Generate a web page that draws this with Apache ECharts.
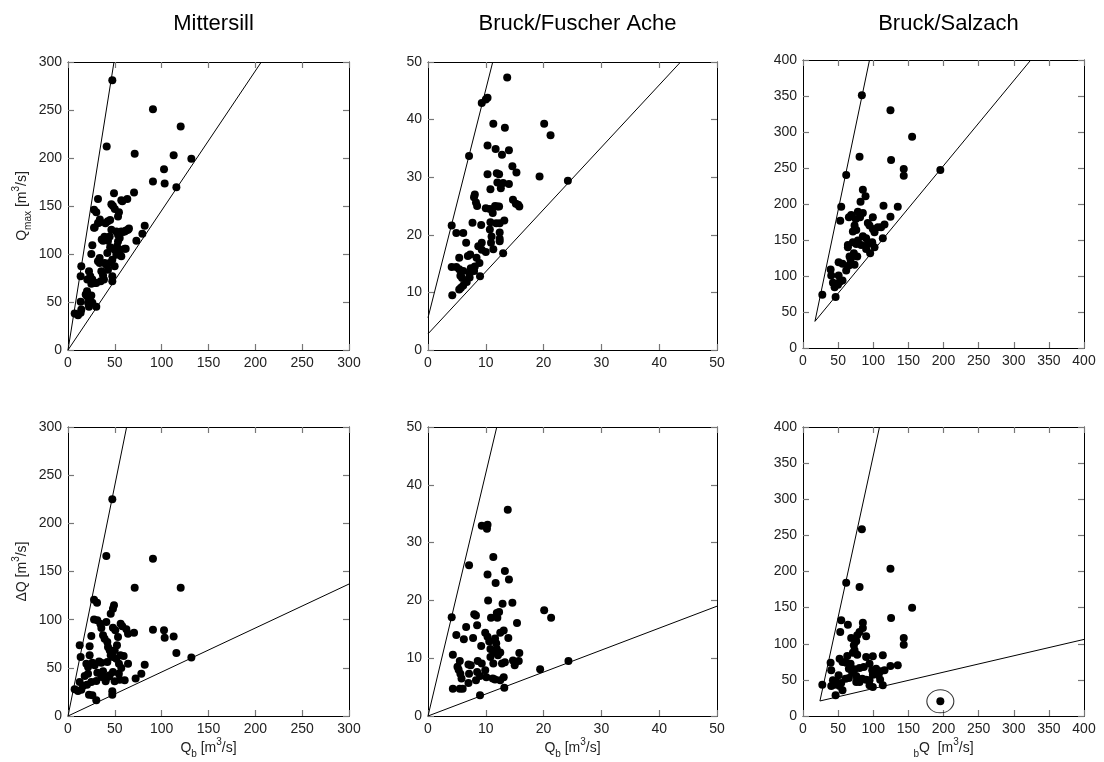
<!DOCTYPE html>
<html>
<head>
<meta charset="utf-8">
<script src="https://cdn.jsdelivr.net/npm/echarts@6/dist/echarts.min.js"></script>
<style>
html,body{margin:0;padding:0;background:#fff;}
#chart{width:1104px;height:762px;}
</style>
</head>
<body>
<div id="chart"></div>
<script>
// ---------- titles ----------
const stationTitles = ['Mittersill', 'Bruck/Fuscher Ache', 'Bruck/Salzach'];

// ---------- axis ranges ----------
const axisMax = [300, 50, 400];
const axisInterval = [50, 10, 50];

// ---------- Mittersill: Qmax vs Qb ----------
const mittersillQmax = [
  [47.3,281],[90.7,250.9],[120.3,232.9],[41.3,212.1],[71.2,204.5],[112.8,202.8],[131.7,199.3],
  [102.5,188.2],[90.7,175.4],[103.2,173.4],[115.7,169.6],[32,157.4],[49.1,163.3],[70.5,164],
  [56.9,156.1],[63.3,157.4],[46.3,151.9],[54.4,143.6],[53.4,139.1],[27.8,146],[30.2,143.6],
  [34,136],[33,132.5],[27.8,127.3],[40,132],[42.5,134],[45,135.5],[51.6,123.5],[53.4,120],
  [58.5,123],[62,124.5],[65.1,126.6],[73,113.8],[79.4,121.1],[81.9,129.4],[60.5,105.5],
  [7.1,38.1],[10.7,36.3],[13.5,38.8],[14.2,42.2],[13.5,50.2],[13.5,76.8],[14.2,87.2],
  [18.9,57.8],[20.3,56.1],[20.3,61.2],[21.4,49.1],[22.4,45],[23.1,54.3],[24.9,56.7],[26,49.1],
  [30.2,45],[20.6,73.4],[22.4,82],[23.8,76.8],[24.9,68.9],[26,73.4],[28.5,69.9],[30.2,69.9],
  [24.9,100],[26,109],[28.5,127.7],[32,132.2],[33.8,90.7],[35.6,82],[37.4,77.9],[38.4,73.4],
  [34.9,71.6],[40.9,88.9],[42,101],[42.7,113.8],[37.4,113.8],[44.5,118.3],[46.3,125.3],
  [47.3,94.1],[47.3,76.8],[47.3,71.6],[49.8,87.2],[49.8,104.5],[51.6,99.3],[52.3,108],
  [53.4,113.1],[55.9,104.5],[56.9,97.6],[55.2,116.6],[56.9,123.5],[60.5,123.5],[61.6,105.5],
  [64.1,125.3],[32,92.4],[33.8,95.8],[39.1,90.7],[42.7,83.7],[44.5,90.7],[36,115],[39,118],
  [45,107],[50,147],[48,150],[58,155]
];
// ---------- Bruck/Fuscher Ache: Qmax vs Qb ----------
const fuscherQmax = [
  [13.7,47.3],[10.3,43.8],[10.0,43.5],[9.3,42.9],[20.1,39.3],[11.3,39.3],[13.3,38.6],[21.2,37.3],
  [10.3,35.5],[11.7,34.9],[14.0,34.7],[12.8,33.9],[7.1,33.7],[14.6,31.9],[15.3,30.8],[10.3,30.5],
  [11.9,30.7],[12.3,30.5],[19.3,30.1],[12.0,29.1],[13.0,29.0],[14.0,28.8],[24.2,29.4],[10.8,27.9],
  [12.6,28.1],[8.1,27.0],[7.96,26.5],[8.3,25.6],[8.5,25.0],[14.7,26.1],[15.2,25.4],[15.6,25.2],
  [15.8,24.9],[10.0,24.6],[10.7,24.5],[11.2,23.8],[11.6,25.0],[12.0,24.9],[12.3,24.9],[10.8,22.2],
  [7.7,22.1],[9.2,21.7],[13.2,22.5],[12.4,22.0],[11.8,22.0],[4.1,21.6],[4.9,20.3],[6.1,20.3],
  [12.4,20.4],[10.7,20.9],[11.0,19.7],[12.4,19.3],[12.4,18.9],[6.6,18.6],[9.3,18.6],[8.7,18.0],
  [10.9,18.6],[11.3,17.5],[10.0,17.0],[9.3,17.4],[13.0,16.8],[7.3,16.6],[6.9,16.3],[8.4,16.0],
  [5.4,16.0],[8.9,15.1],[8.1,14.5],[7.4,14.2],[4.1,14.4],[4.9,14.4],[5.4,14.0],[6.1,13.7],
  [7.97,13.7],[7.2,13.3],[5.6,12.9],[5.9,12.5],[7.2,12.6],[9.0,12.8],[6.7,11.8],[6.1,11.2],
  [5.7,10.8],[5.4,10.5],[4.2,9.5]
];
// ---------- Bruck/Salzach: Qmax vs Qb ----------
const salzachQmax = [
  [83.8,351],[124.5,330.3],[155.3,293.3],[80.5,265.6],[125.4,261],[143.4,248.5],[195.5,247.1],
  [143.4,239.3],[61.5,240.2],[85.2,219.9],[89,210.6],[81.9,203.2],[54.4,196.3],[134.9,196.3],
  [114.6,197.7],[53,176.9],[78.1,189.4],[85.2,187.5],[68.6,184.8],[65.3,181.5],[75.1,179.2],
  [81.2,181.5],[99.4,181.5],[124.5,182.4],[92.3,173.7],[94.7,170],[99.4,165.4],[106.5,167.7],
  [116,171.4],[111.2,167.7],[73.4,170],[71,161.7],[75.8,164],[101.8,160.7],[113.6,152.4],
  [85.2,155.2],[89.9,152.4],[78.1,149.2],[71,146.9],[75.8,144.6],[82.8,143.2],[92.3,144.6],
  [98.5,146.9],[101.8,140],[89.9,137.6],[95.6,131.6],[63.9,143.2],[63.9,140],[72.4,131.6],
  [66.3,127],[69.8,127],[77.2,127],[67.7,122.4],[73.4,115.5],[65.3,114.5],[61.5,107.6],
  [50.7,119.2],[56.2,116.9],[39.3,109],[40.2,100.7],[50.7,100.7],[42.6,90.5],[47.3,89.1],
  [52.1,91.5],[56.2,93.8],[45,84.5],[49.7,87.8],[27.5,73.9],[46.4,70.7]
];
// ---------- Mittersill: dQ vs Qb ----------
const mittersillDQ = [
  [47.3,224.9],[40.9,166.1],[90.7,163.3],[71.2,133.2],[120.3,133.2],[27.8,120.8],[31,117.6],
  [49.1,114.9],[48,111.4],[45.6,106.2],[27.8,100.3],[31.3,99.3],[40.9,97.6],[34.5,95.8],
  [35.6,91.3],[48,91.7],[50.5,88.9],[56.2,95.8],[58,93.1],[62.3,90],[64.1,85.5],[70.5,86.5],
  [90.7,89.6],[102.5,88.9],[103.2,81.3],[112.8,82.4],[115.7,65.4],[131.7,60.6],[24.9,83],
  [37.4,83.7],[39.1,80.3],[42,76.8],[42.7,71.6],[44.5,68.2],[49.8,68.2],[52.3,73.4],[53.4,82],
  [55.9,63],[59.4,62.3],[12.5,73.4],[13.5,61.2],[23.1,72.3],[23.1,63],[19.6,54.3],[21.4,50.9],
  [26,55.4],[28.5,52.6],[33.1,56.7],[35.6,55.4],[42,56.1],[45.6,63],[48,61.2],[51.6,59.5],
  [54.4,54.3],[64.1,54.3],[81.9,53.3],[78.3,43.9],[72.2,38.8],[56.9,49.8],[54.3,43.9],
  [48,45.7],[37.4,46.4],[31.3,45],[21.4,43.9],[17.8,41.5],[12.5,35.3],[16,31.1],[20.3,32.5],
  [24.9,35.3],[30.2,36.3],[40.2,36],[49.8,36],[55.2,37.7],[60.5,37],[7.1,27.7],[10.7,26],
  [14.2,27.3],[22.4,22.1],[26,21.5],[30.2,16.3],[47.3,25.6],[47.3,22.1],[42.7,40.5],
  [44.5,42.2],[35.6,40.5]
];
// ---------- Bruck/Fuscher Ache: dQ vs Qb ----------
const fuscherDQ = [
  [13.8,35.7],[10.3,33.1],[9.3,32.9],[10.2,32.4],[7.1,26.1],[11.3,27.5],[13.3,25.1],[10.3,24.5],
  [14.0,23.6],[11.7,23.0],[10.4,20.0],[20.1,18.3],[21.3,17.0],[12.9,19.4],[14.6,19.6],[4.1,17.1],
  [8.0,17.6],[8.3,17.4],[11.9,17.8],[12.3,18.0],[10.9,17.0],[12.0,17.0],[15.4,16.1],[8.5,15.7],
  [13.1,14.8],[12.5,14.4],[9.9,14.4],[6.6,15.4],[4.9,14.0],[6.2,13.3],[7.8,13.5],[10.3,13.7],
  [10.6,12.9],[11.6,13.4],[13.9,13.5],[11.8,12.6],[9.2,12.1],[4.3,10.6],[10.8,11.6],[11.3,11.0],
  [11.9,11.6],[12.5,11.0],[12.1,10.5],[15.8,10.9],[10.8,10.2],[5.5,9.5],[7.0,8.9],[7.4,8.8],
  [8.6,9.5],[9.3,9.1],[9.9,7.9],[11.3,9.1],[12.8,9.1],[13.3,9.3],[14.7,9.6],[15.0,8.8],[15.7,9.5],
  [19.4,8.1],[24.3,9.5],[5.1,8.5],[5.3,8.0],[5.6,7.3],[5.8,6.5],[7.1,7.3],[8.5,7.6],[9.0,6.9],
  [8.3,6.2],[7.0,5.7],[10.1,6.7],[11.2,6.5],[11.6,6.3],[12.5,6.2],[13.1,6.7],[4.3,4.7],[5.5,4.7],
  [6.0,4.7],[13.2,4.9],[9.0,3.6]
];
// ---------- Bruck/Salzach: dQ vs Qb ----------
const salzachDQ = [
  [83.8,258.4],[124.5,203.9],[61.5,184.5],[80.5,178.5],[155.3,149.9],[125.4,135.6],[54.4,132.4],
  [85.2,129.2],[63.9,126.4],[85.2,121.8],[80.5,116.3],[53,116.3],[77.2,111.6],[89.9,110.3],
  [143.4,108],[143.4,98.7],[68.6,108],[75.8,103.3],[72.4,97.8],[73.4,90.9],[71,87.7],[77.2,84.9],
  [63,83],[113.6,84],[89.9,81.7],[99.4,82.6],[39.3,73.8],[52.1,79.4],[56.2,74.7],[61.5,73.8],
  [67.7,72.4],[94.7,72.4],[134.9,70.1],[124.5,69.2],[40.2,63.2],[65.3,65.5],[73.4,64.6],
  [80.5,66.4],[86.6,67.8],[104.1,65.5],[110.3,61.8],[116,63.2],[70,60],[98.5,63.2],[99.4,57.2],
  [50.7,56.3],[60.6,51.7],[65.3,52.6],[75.8,55.4],[84.3,51.7],[89.9,50.3],[94.7,49.4],
  [107.5,56.3],[109.8,50.3],[42.6,49.4],[47.3,47.1],[54.4,45.7],[45,43.4],[40.2,41.5],[27.5,43.4],
  [52.1,41.5],[75.8,47.1],[80.5,47.1],[94.7,42.4],[99.4,40.1],[113.6,42.4],[56.2,35.5],[46.4,28.6],
  [195.5,20.3]
];
// circled outlier (Bruck/Salzach, dQ)
const salzachOutlierMark = [[195.5,20.3]];

// ---------- envelope lines [start, end] ----------
const mittersillQmaxUpper = [[0,0],[49.1,300]];
const mittersillQmaxLower = [[0,0],[206.4,300]];
const fuscherQmaxUpper = [[0,5.6],[11.2,50]];
const fuscherQmaxLower = [[0,2.8],[43.7,50]];
const salzachQmaxUpper = [[17,37],[94.7,400]];
const salzachQmaxLower = [[17,37],[324.3,400]];
const mittersillDQUpper = [[0,0],[62.6,300]];
const mittersillDQLower = [[0,0],[300,137]];
const fuscherDQUpper = [[0,0],[11.9,50]];
const fuscherDQLower = [[0,0],[50,19]];
const salzachDQUpper = [[24.1,20.8],[108.9,400]];
const salzachDQLower = [[24.1,20.8],[400,106]];

// ---------- layout ----------
const gridBoxes = [
  {left:68, top:62, width:281, height:288},
  {left:428, top:62, width:289, height:288},
  {left:803, top:60, width:281, height:288},
  {left:68, top:427, width:281, height:289},
  {left:428, top:427, width:289, height:289},
  {left:803, top:427, width:281, height:289}
];
const panelData = [mittersillQmax, fuscherQmax, salzachQmax, mittersillDQ, fuscherDQ, salzachDQ];
const panelLines = [
  [mittersillQmaxUpper, mittersillQmaxLower],
  [fuscherQmaxUpper, fuscherQmaxLower],
  [salzachQmaxUpper, salzachQmaxLower],
  [mittersillDQUpper, mittersillDQLower],
  [fuscherDQUpper, fuscherDQLower],
  [salzachDQUpper, salzachDQLower]
];

const FONT = 'Liberation Sans, Arial, sans-serif';
const rich = {
  n: {fontSize: 14, fontFamily: FONT, color: '#222', lineHeight: 22, verticalAlign: 'middle'},
  sub: {fontSize: 10, fontFamily: FONT, color: '#222', lineHeight: 22, verticalAlign: 'bottom'},
  sup: {fontSize: 10, fontFamily: FONT, color: '#222', lineHeight: 22, verticalAlign: 'top'}
};
const yNames = ['{n|Q}{sub|max}{n| [m}{sup|3}{n|/s]}', '', '', '{n|ΔQ [m}{sup|3}{n|/s]}', '', ''];
const xNames = ['', '', '', '{n|Q}{sub|b}{n| [m}{sup|3}{n|/s]}', '{n|Q}{sub|b}{n| [m}{sup|3}{n|/s]}', '{sub|b}{n|Q  [m}{sup|3}{n|/s]}'];

const grids = [], xAxes = [], yAxes = [], series = [], titles = [];

function axisBase(max, interval, showLabel, pos) {
  return {
    type: 'value', min: 0, max: max, interval: interval, position: pos,
    splitLine: {show: false},
    axisLine: {show: true, onZero: false, lineStyle: {color: '#000', width: 1}},
    axisTick: {show: true, inside: true, length: 6, lineStyle: {color: '#777', width: 1.2}},
    axisLabel: {show: showLabel, fontSize: 14, fontFamily: FONT, color: '#222', margin: 6}
  };
}

for (let i = 0; i < 6; i++) {
  const col = i % 3;
  const max = axisMax[col], itv = axisInterval[col];
  grids.push(Object.assign({containLabel: false}, gridBoxes[i]));
  const xb = axisBase(max, itv, true, 'bottom');
  xb.gridIndex = i;
  xb.name = xNames[i];
  xb.nameLocation = 'middle';
  xb.nameGap = 19;
  xb.nameTextStyle = {rich: rich};
  const xt = axisBase(max, itv, false, 'top');
  xt.gridIndex = i;
  const yl = axisBase(max, itv, true, 'left');
  yl.gridIndex = i;
  yl.name = yNames[i];
  yl.nameLocation = 'middle';
  yl.nameGap = 35;
  yl.nameTextStyle = {rich: rich};
  const yr = axisBase(max, itv, false, 'right');
  yr.gridIndex = i;
  const xIdx = xAxes.length;
  xAxes.push(xb, xt);
  const yIdx = yAxes.length;
  yAxes.push(yl, yr);

  panelLines[i].forEach(function (ln) {
    series.push({
      type: 'line', xAxisIndex: xIdx, yAxisIndex: yIdx, data: ln,
      showSymbol: false, symbol: 'none', silent: true, clip: true,
      lineStyle: {color: '#000', width: 1}, z: 2
    });
  });
  series.push({
    type: 'scatter', xAxisIndex: xIdx, yAxisIndex: yIdx, data: panelData[i],
    symbol: 'circle', symbolSize: 8, itemStyle: {color: '#000', opacity: 1}, z: 3
  });
  if (i === 5) {
    series.push({
      type: 'scatter', xAxisIndex: xIdx, yAxisIndex: yIdx, data: salzachOutlierMark,
      symbol: 'circle', symbolSize: [27, 23],
      itemStyle: {color: 'rgba(0,0,0,0)', borderColor: '#000', borderWidth: 1}, z: 4
    });
  }
}

const titleCenters = [208.5, 572.5, 943.5];
stationTitles.forEach(function (t, k) {
  titles.push({
    text: t, left: titleCenters[k], top: 8, textAlign: 'center',
    textStyle: {fontSize: 22, fontWeight: 'normal', fontFamily: FONT, color: '#000'}
  });
});

const chart = echarts.init(document.getElementById('chart'), null, {renderer: 'canvas'});
chart.setOption({
  backgroundColor: '#fff',
  animation: false,
  title: titles,
  grid: grids,
  xAxis: xAxes,
  yAxis: yAxes,
  series: series
});
</script>
</body>
</html>
